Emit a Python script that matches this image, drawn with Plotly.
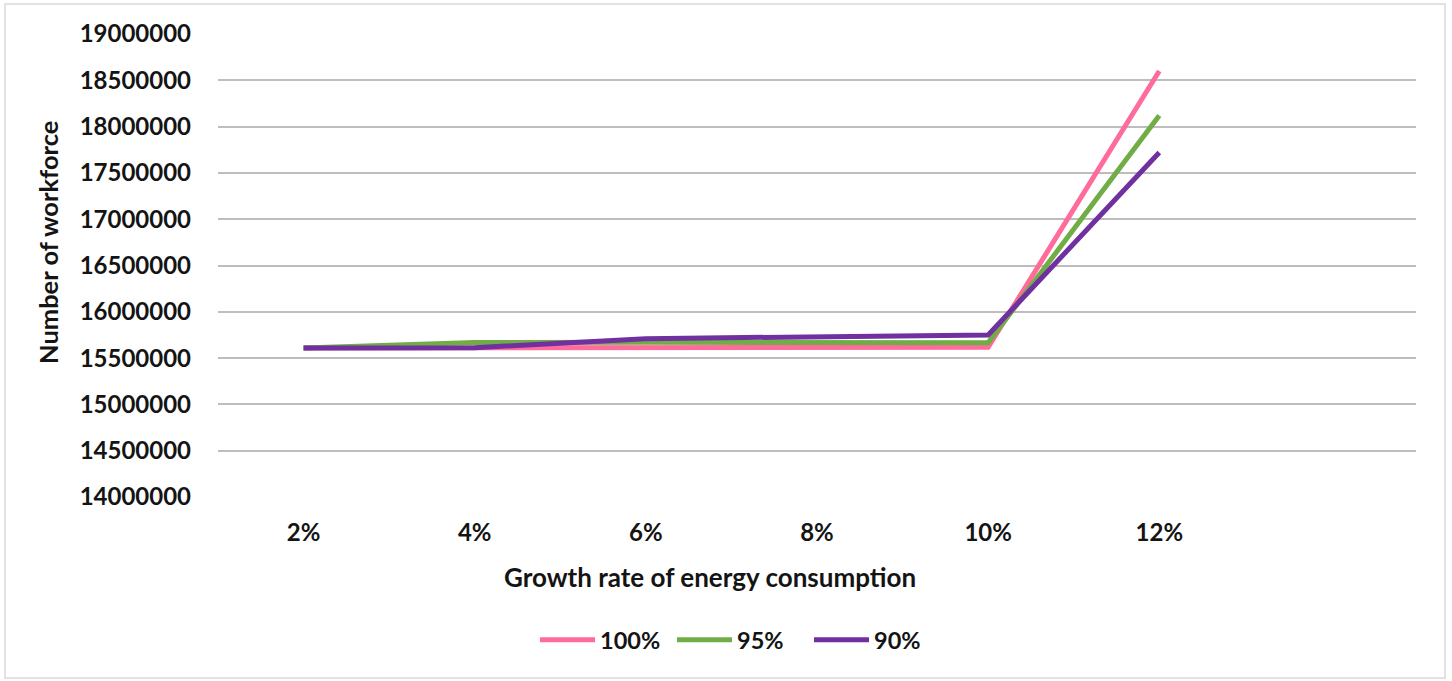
import plotly.graph_objects as go

# Growth-rate categories (the last axis slot is left empty)
growth_rates = ["2%", "4%", "6%", "8%", "10%", "12%"]
positions = [0, 1, 2, 3, 4, 5]

# Number of workforce for each scenario
workforce_100 = [15610000, 15612000, 15620000, 15622000, 15618000, 18600000]
workforce_95 = [15610000, 15668000, 15670000, 15672000, 15665000, 18120000]
workforce_90 = [15610000, 15612000, 15710000, 15735000, 15750000, 17720000]

y_ticks = [14000000 + 500000 * i for i in range(11)]

series = [
    ("100%", workforce_100, "#FF6B9A"),
    ("95%", workforce_95, "#70AD47"),
    ("90%", workforce_90, "#7030A0"),
]

FONT = "Lato"
TEXT = "#141414"

fig = go.Figure()
for name, vals, color in series:
    fig.add_trace(go.Scatter(
        x=positions, y=vals, name=name, mode="lines",
        line=dict(color=color, width=5),
    ))

fig.update_layout(
    width=1452, height=681,
    margin=dict(l=218, r=36, t=34, b=184),
    paper_bgcolor="white", plot_bgcolor="white",
    font=dict(family=FONT, color=TEXT, size=24, weight="bold"),
    showlegend=True,
    legend=dict(
        orientation="h", xanchor="left", yanchor="middle",
        x=(535 - 218) / 1198, y=(497 - 640) / 463,
        font=dict(family=FONT, size=23.5, color=TEXT, weight="bold"),
        itemwidth=55, tracegroupgap=0,
        entrywidth=67, entrywidthmode="pixels",
    ),
    xaxis=dict(
        range=[-0.5, 6.5], tickmode="array", tickvals=positions,
        ticktext=growth_rates, showgrid=False, zeroline=False,
        showline=False, ticks="", ticklabelstandoff=19,
        tickfont=dict(family=FONT, size=24, color=TEXT, weight="bold"),
    ),
    yaxis=dict(
        range=[14000000, 19000000], tickmode="array", tickvals=y_ticks,
        ticktext=[str(v) for v in y_ticks],
        showgrid=True, gridcolor="#BDBDBD", gridwidth=2,
        zeroline=False, showline=False, ticks="", ticklabelstandoff=26,
        tickfont=dict(family=FONT, size=24, color=TEXT, weight="bold"),
    ),
    annotations=[
        dict(text="Growth rate of energy consumption", xref="paper", yref="paper",
             x=(710 - 218) / 1198, y=(497 - 577) / 463, xanchor="center",
             yanchor="middle", showarrow=False,
             font=dict(family=FONT, size=26, color=TEXT, weight="bold")),
        dict(text="Number of workforce", xref="paper", yref="paper",
             x=(48 - 218) / 1198, y=(497 - 243) / 463, xanchor="center",
             yanchor="middle", showarrow=False, textangle=-90,
             font=dict(family=FONT, size=25.5, color=TEXT, weight="bold")),
    ],
    shapes=[
        dict(type="rect", xref="paper", yref="paper",
             x0=(5 - 218) / 1198, x1=(1445 - 218) / 1198,
             y0=(497 - 678) / 463, y1=(497 - 4) / 463,
             line=dict(color="#D9D9D9", width=1.5), fillcolor="rgba(0,0,0,0)",
             layer="below"),
    ],
)

fig.write_html("out.html")
